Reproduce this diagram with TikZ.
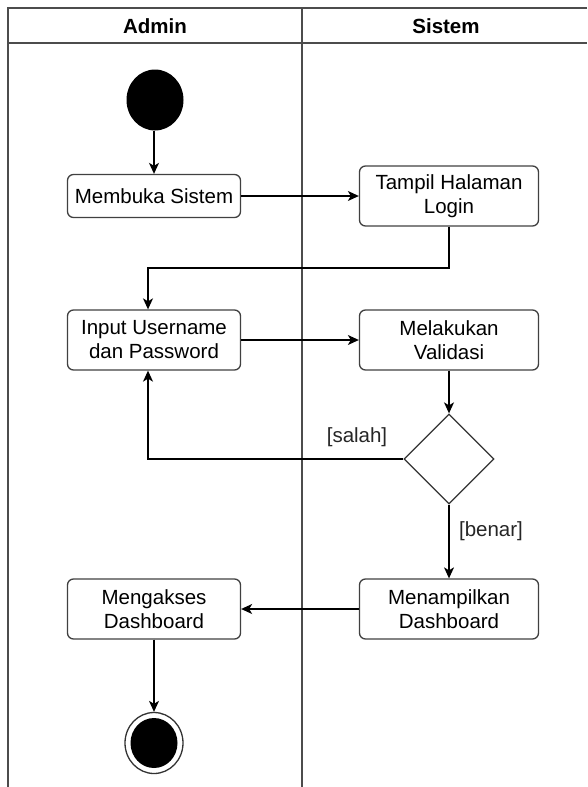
\documentclass[tikz,border=0pt]{standalone}
\usepackage{fontspec}
\setmainfont{Liberation Sans}
\usetikzlibrary{positioning,shapes.geometric,arrows.meta}
\tikzstyle{activity} = [rectangle, rounded corners=6, minimum width=173, minimum height=60, align=center, draw=black!75, line width=1.3, font=\fontsize{20.5}{24}\selectfont]
\tikzstyle{decision} = [diamond, minimum width=90, minimum height=90, inner sep=0, draw=black!80, line width=1.3]
\tikzstyle{lane} = [draw=black!70, line width=2]
\tikzstyle{connect} = [line width=1.3, -{Stealth[length=11, width=10, inset=3]}]
\tikzstyle{guard} = [font=\fontsize{20.5}{24}\selectfont, text=black!85]

\begin{document}
\begin{tikzpicture}[x=1pt, y=-1pt, node distance=295]
			\useasboundingbox (0,0) rectangle (587,787);
			% swimlanes
			\draw [lane] (587,8) -- (8,8) -- (8,787);
			\draw [lane] (8,43) -- (587,43);
			\draw [lane] (302,8) -- (302,787);
			\node (admin) at (155,26) {\fontsize{20.5}{22}\selectfont\bfseries Admin};
			\node (sistem) at (446,26) {\fontsize{20.5}{22}\selectfont\bfseries Sistem};
			
			% nodes
			\node (start) at (155,100) [ellipse, fill=black, minimum width=57, minimum height=61, inner sep=0] {};
			\node (buka) at (154,196) [activity, minimum height=43] {Membuka Sistem};
			\node (login) [activity, right of=buka, minimum width=179] {Tampil Halaman\\Login};
			\node (input) at (154,340) [activity] {Input Username\\dan Password};
			\node (valid) [activity, right of=input, minimum width=179] {Melakukan\\Validasi};
			\node (cek) [decision, below of=valid, node distance=119] {};
			\node (akses) at (154,609) [activity] {Mengakses\\Dashboard};
			\node (tampil) [activity, right of=akses, minimum width=179] {Menampilkan\\Dashboard};
			\node (stop) at (154,743) [ellipse, draw=black!80, line width=1.3, minimum width=58, minimum height=61, inner sep=0] {};
			\node (stopdot) at (stop.center) [ellipse, fill=black, minimum width=47, minimum height=50, inner sep=0] {};
			\coordinate (balik) at (148,268);
			\coordinate (salah) at (148,459);
			
			\draw [connect] (start.south -| buka) -- (buka);
			\draw [connect] (buka) -- (login);
			\draw [connect] (login.south) |- (balik) -- (balik |- input.north);
			\draw [connect] (input) -- (valid);
			\draw [connect] (valid) -- (cek);
			\draw [connect] (cek.west) -- (salah) -- (salah |- input.south);
			\draw [connect] (cek.south) -- (tampil.north);
			\draw [connect] (tampil) -- (akses);
			\draw [connect] (akses) -- (stop);
			\node (lsalah) [guard] at (357,437) {[salah]};
			\node (lbenar) [guard] at (491,531) {[benar]};
			\end{tikzpicture}
\end{document}
